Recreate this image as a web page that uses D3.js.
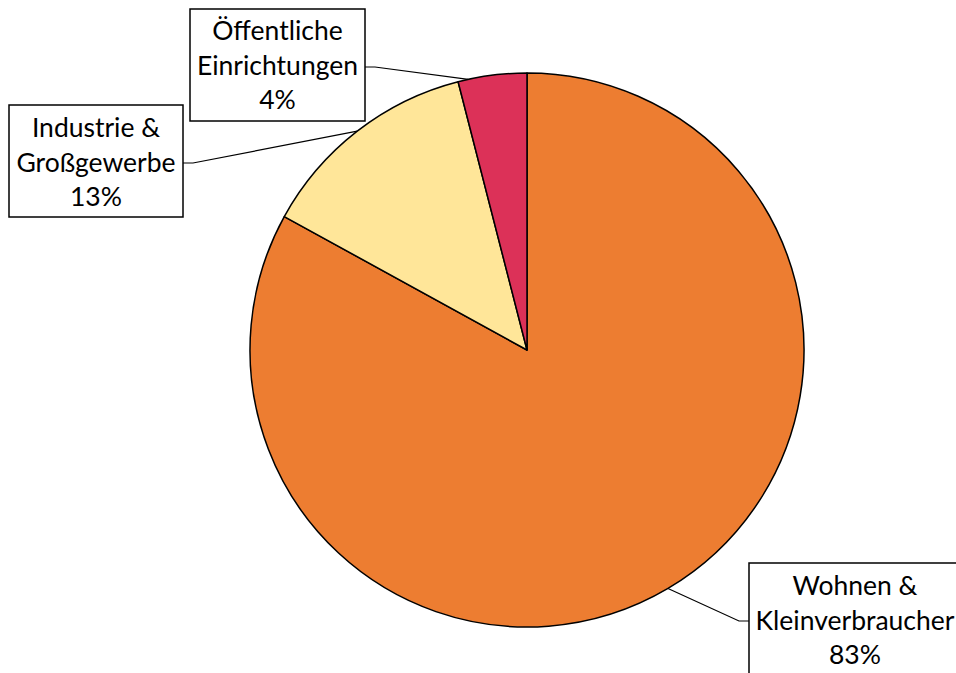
<!DOCTYPE html>
<html><head><meta charset="utf-8">
<script src="https://cdn.jsdelivr.net/npm/d3@7"></script>
<style>body{margin:0;background:#fff;} svg{display:block;}</style>
</head><body>
<svg id="chart" width="956" height="673"></svg>
<script>
const categories = ["Wohnen & Kleinverbraucher", "Industrie & Großgewerbe", "Öffentliche Einrichtungen"];
const labelLines = [["Wohnen &", "Kleinverbraucher"], ["Industrie &", "Großgewerbe"], ["Öffentliche", "Einrichtungen"]];
const values = [83, 13, 4];
const colors = ["#ED7D31", "#FFE699", "#DC3158"];

const svg = d3.select("#chart");
const cx = 527, cy = 350, R = 277;
const g = svg.append("g").attr("transform", `translate(${cx},${cy})`);

const pie = d3.pie().sort(null).value(d => d)(values);
const arc = d3.arc().innerRadius(0).outerRadius(R);

g.selectAll("path").data(pie).enter().append("path")
  .attr("d", arc)
  .attr("fill", (d, i) => colors[i])
  .attr("stroke", "#000").attr("stroke-width", 1.5).attr("stroke-linejoin", "round");

// label boxes (layout)
const boxes = [
  {x: 749, y: 563, w: 214, h: 112, tx: 855, base: 595, side: "left", anchorFrac: 0.5},
  {x: 9, y: 105, w: 174, h: 112, tx: 96, base: 137, side: "right", anchorFrac: 0.5},
  {x: 190, y: 9, w: 175, h: 112, tx: 277.5, base: 40, side: "right", anchorFrac: 0.15}
];
const fmt = d3.format(".0%");
const total = d3.sum(values);

pie.forEach((d, i) => {
  const b = boxes[i];
  const a = d.startAngle + (d.endAngle - d.startAngle) * b.anchorFrac;
  const px = cx + R * Math.sin(a), py = cy - R * Math.cos(a);
  const by = b.y + b.h / 2 + 2;
  const bx = b.side === "left" ? b.x : b.x + b.w;
  const kx = b.side === "left" ? bx - 10 : bx + 10;
  svg.append("polyline")
    .attr("points", `${bx},${by} ${kx},${by} ${px},${py}`)
    .attr("fill", "none").attr("stroke", "#000").attr("stroke-width", 1.2);
  svg.append("rect").attr("x", b.x).attr("y", b.y).attr("width", b.w).attr("height", b.h)
    .attr("fill", "#fff").attr("stroke", "#000").attr("stroke-width", 1.5);
  const lines = labelLines[i].concat([fmt(values[i] / total)]);
  const t = svg.append("text").attr("text-anchor", "middle")
    .attr("font-family", "Lato, 'Open Sans', sans-serif").attr("font-size", 26.5).attr("fill", "#000");
  lines.forEach((l, j) => {
    t.append("tspan").attr("x", b.tx).attr("y", b.base + j * 34.5).text(l);
  });
});
</script>
</body></html>
